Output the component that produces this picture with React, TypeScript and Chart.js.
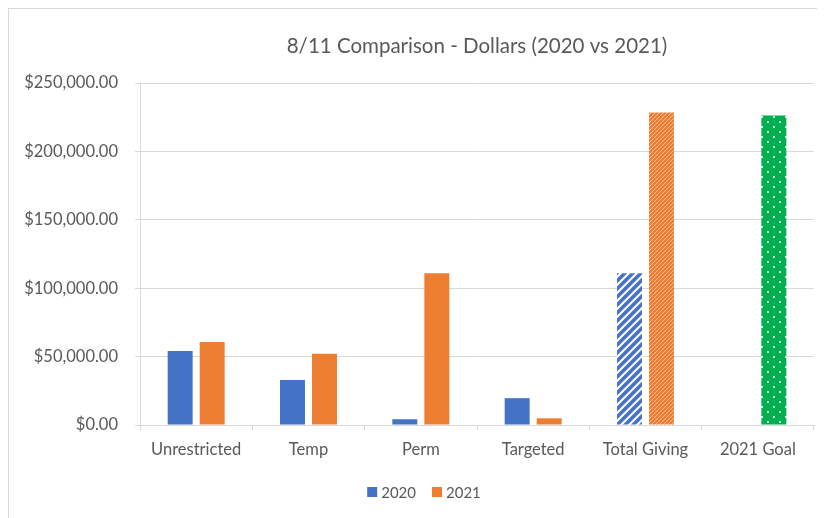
import React, { useEffect, useRef } from "react";
import { Chart, registerables } from "chart.js";

Chart.register(...registerables);

const titleText = "8/11 Comparison - Dollars (2020 vs 2021)";
const categories = ["Unrestricted", "Temp", "Perm", "Targeted", "Total Giving", "2021 Goal"];
const seriesNames = ["2020", "2021"];
const values2020 = [54100, 32900, 4200, 19600, 110900, null];
const values2021 = [60700, 52000, 111000, 4900, 228500, 226300];
const yTicks = [0, 50000, 100000, 150000, 200000, 250000];

const BLUE = "#4472C4";
const ORANGE = "#ED7D31";
const GREEN = "#00B050";
const TEXT = "#595959";
const GRID = "#d9d9d9";
const FONT = "Lato, 'Open Sans', sans-serif";

function makePattern(w: number, h: number, draw: (ctx: CanvasRenderingContext2D) => void) {
  const c = document.createElement("canvas");
  c.width = w;
  c.height = h;
  const ctx = c.getContext("2d")!;
  draw(ctx);
  return ctx.createPattern(c, "repeat") as CanvasPattern;
}

function stripes(size: number, color: string, lw: number) {
  return makePattern(size, size, (ctx) => {
    ctx.fillStyle = "#ffffff";
    ctx.fillRect(0, 0, size, size);
    ctx.strokeStyle = color;
    ctx.lineWidth = lw;
    ctx.lineCap = "square";
    for (const o of [-size, 0, size]) {
      ctx.beginPath();
      ctx.moveTo(o, size);
      ctx.lineTo(o + size, 0);
      ctx.stroke();
    }
  });
}

function dots() {
  return makePattern(12, 10, (ctx) => {
    ctx.fillStyle = GREEN;
    ctx.fillRect(0, 0, 12, 10);
    ctx.fillStyle = "rgba(255,255,255,0.8)";
    ctx.fillRect(2, 2, 2, 2);
    ctx.fillRect(8, 7, 2, 2);
  });
}

function fmt(v: number) {
  return "$" + v.toLocaleString("en-US", { minimumFractionDigits: 2, maximumFractionDigits: 2 });
}

const decorPlugin = {
  id: "decor",
  afterDraw(chart: any) {
    const ctx: CanvasRenderingContext2D = chart.ctx;
    const ca = chart.chartArea;
    ctx.save();
    // title centred over the plot area
    ctx.fillStyle = TEXT;
    ctx.font = `20.5px ${FONT}`;
    ctx.textAlign = "center";
    ctx.textBaseline = "middle";
    ctx.fillText(titleText, (ca.left + ca.right) / 2, 37);
    // legend
    ctx.font = `15px ${FONT}`;
    ctx.textAlign = "left";
    const colors = [BLUE, ORANGE];
    const box = 10;
    const gap = 4;
    const itemGap = 16;
    const widths = seriesNames.map((n) => box + gap + ctx.measureText(n).width);
    const total = widths.reduce((a, b) => a + b, 0) + itemGap * (seriesNames.length - 1);
    let x = chart.width / 2 + 7 - total / 2;
    const y = 483;
    seriesNames.forEach((n, i) => {
      ctx.fillStyle = colors[i];
      ctx.fillRect(x, y - box / 2, box, box);
      ctx.fillStyle = TEXT;
      ctx.fillText(n, x + box + gap, y + 1);
      x += widths[i] + itemGap;
    });
    ctx.restore();
  },
};

export default function App() {
  const ref = useRef<HTMLCanvasElement>(null);

  useEffect(() => {
    if (!ref.current) return;
    const blueStripes = stripes(8, BLUE, 3.5);
    const orangeStripes = stripes(4, ORANGE, 2.5);
    const greenDots = dots();

    const bg2020 = values2020.map((_, i) => (i === 4 ? blueStripes : BLUE));
    const bg2021 = values2021.map((_, i) => (i === 4 ? orangeStripes : i === 5 ? greenDots : ORANGE));

    const chart = new Chart(ref.current, {
      type: "bar",
      data: {
        labels: categories,
        datasets: [
          {
            label: seriesNames[0],
            data: values2020,
            backgroundColor: bg2020 as any,
            categoryPercentage: 0.57,
            barPercentage: 0.78,
          },
          {
            label: seriesNames[1],
            data: values2021,
            backgroundColor: bg2021 as any,
            categoryPercentage: 0.57,
            barPercentage: 0.78,
          },
        ],
      },
      options: {
        animation: false,
        responsive: false,
        maintainAspectRatio: false,
        layout: { padding: { left: 0, right: 11, top: 74, bottom: 43 } },
        plugins: {
          title: { display: false },
          legend: { display: false },
          tooltip: { enabled: false },
        },
        scales: {
          x: {
            grid: { display: true, drawOnChartArea: false, drawTicks: true, tickLength: 5, color: GRID, offset: true },
            border: { display: true, color: GRID, width: 1 },
            ticks: { color: TEXT, font: { family: FONT, size: 16.5 }, padding: 10, maxRotation: 0, autoSkip: false },
            afterFit: (s: any) => {
              s.height = 50;
            },
          },
          y: {
            min: 0,
            max: 250000,
            afterBuildTicks: (s: any) => {
              s.ticks = yTicks.map((v) => ({ value: v }));
            },
            grid: { color: GRID, tickLength: 5, drawTicks: true },
            border: { display: true, color: GRID, width: 1 },
            ticks: {
              color: TEXT,
              font: { family: FONT, size: 16.5 },
              padding: 17,
              callback: (v: any) => fmt(Number(v)),
            },
            afterFit: (s: any) => {
              s.width = 131;
            },
          },
        },
      },
      plugins: [decorPlugin],
    });
    return () => chart.destroy();
  }, []);

  return (
    <div
      style={{
        width: 816,
        height: 509,
        borderLeft: "1px solid #d9d9d9",
        borderTop: "1px solid #d9d9d9",
        background: "#fff",
        overflow: "hidden",
      }}
    >
      <canvas ref={ref} width={816} height={509} style={{ display: "block" }} />
    </div>
  );
}
